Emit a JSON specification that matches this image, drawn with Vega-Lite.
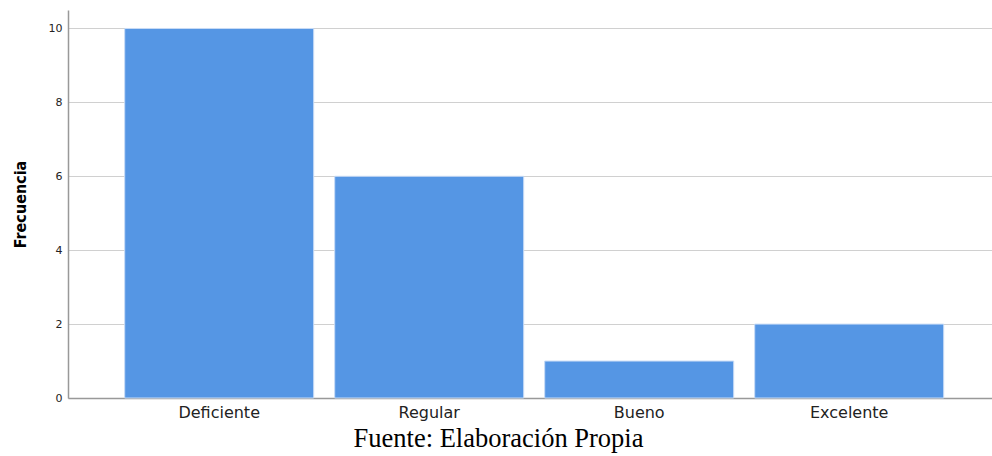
{
  "$schema": "https://vega.github.io/schema/vega-lite/v6.json",
  "width": 924,
  "height": 388,
  "autosize": {"type": "none"},
  "padding": {"left": 68, "top": 10, "right": 0, "bottom": 58},
  "background": "white",
  "config": {"view": {"stroke": null}},
  "data": {
    "values": [
      {"categoria": "Deficiente", "frecuencia": 10},
      {"categoria": "Regular", "frecuencia": 6},
      {"categoria": "Bueno", "frecuencia": 1},
      {"categoria": "Excelente", "frecuencia": 2}
    ]
  },
  "mark": {"type": "bar", "color": "#5596E4", "stroke": "#C8DCF6", "strokeWidth": 1},
  "encoding": {
    "x": {
      "field": "categoria",
      "type": "nominal",
      "sort": null,
      "scale": {"paddingInner": 0.1, "paddingOuter": 0.25, "align": 0.54},
      "axis": {
        "labelAngle": 0,
        "labelFont": "DejaVu Sans",
        "labelFontSize": 16,
        "labelColor": "#222222",
        "labelPadding": 6,
        "ticks": false,
        "domainColor": "#999999",
        "domainWidth": 1.5,
        "title": "Fuente: Elaboración Propia",
        "titleFont": "Liberation Serif",
        "titleFontSize": 26.5,
        "titleFontWeight": "normal",
        "titleColor": "#000000",
        "titleX": 430,
        "titleY": 48,
        "titleAlign": "center",
        "titleBaseline": "alphabetic"
      }
    },
    "y": {
      "field": "frecuencia",
      "type": "quantitative",
      "scale": {"domain": [0, 10.5], "nice": false},
      "axis": {
        "values": [0, 2, 4, 6, 8, 10],
        "labelFont": "DejaVu Sans",
        "labelFontSize": 11,
        "labelColor": "#222222",
        "labelPadding": 6,
        "ticks": false,
        "domainColor": "#999999",
        "domainWidth": 1.5,
        "gridColor": "#D0D0D0",
        "gridWidth": 1.2,
        "title": "Frecuencia",
        "titleFont": "'Liberation Sans Narrow', 'DejaVu Sans Condensed', 'Liberation Sans', sans-serif",
        "titleFontSize": 16,
        "titleFontWeight": "bold",
        "titleColor": "#000000",
        "titleAngle": -90,
        "titleX": -48,
        "titleY": 194,
        "titleAlign": "center",
        "titleBaseline": "middle"
      }
    }
  }
}
